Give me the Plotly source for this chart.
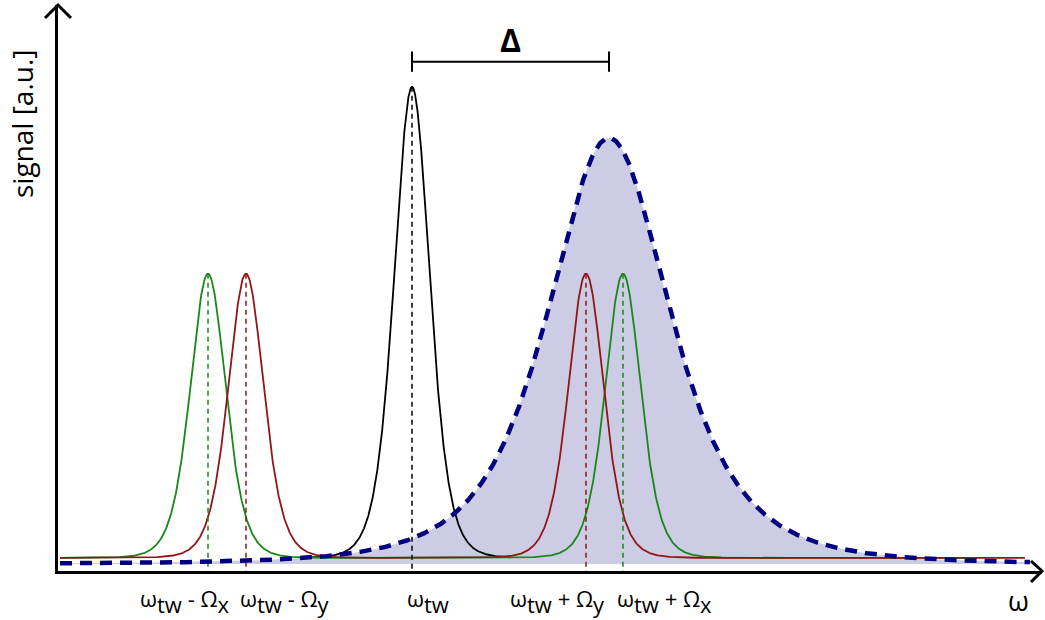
import numpy as np
import plotly.graph_objects as go

# ---- spectrum parameters (omega in arbitrary units, signal in a.u.) ----
omega_tw = 3.54                      # carrier peak
green_centers = [1.50, 5.65]         # omega_tw -/+ Omega_x
red_centers = [1.88, 5.28]           # omega_tw -/+ Omega_y
sideband_height = 0.587
carrier_height = 0.973
narrow_width = 0.48
narrow_exponent = 4
line_baseline = 0.027

cavity_center = 5.51                 # broad cavity response
cavity_height = 0.880
cavity_width = 1.12
cavity_exponent = 2
cavity_baseline = 0.0145

# x-extent of each drawn curve
red_span = [0.02, 9.67]
green_span = [0.02, 9.19]
black_span = [2.42, 4.53]
cavity_span = [0.02, 9.72]

# lowered, full-size index letters
SUB = "<span style='baseline-shift:-6px'>{}</span>"
tick_positions = [0.80, 1.80, 3.47, 4.50, 5.57]
tick_labels = [
    "ω" + SUB.format("tw") + " - Ω" + SUB.format("x"),
    "ω" + SUB.format("tw") + " - Ω" + SUB.format("y"),
    "ω" + SUB.format("tw"),
    "ω" + SUB.format("tw") + " + Ω" + SUB.format("y"),
    "ω" + SUB.format("tw") + " + Ω" + SUB.format("x"),
]

GREEN = "rgb(25,135,25)"
RED = "rgb(145,22,22)"
BLACK = "black"
NAVY = "rgb(0,0,128)"
FILL = "rgb(204,204,228)"
FONT = "Open Sans"


def pearson7(x, c, h, w, m):
    return h / (1.0 + ((x - c) / w) ** 2) ** m


def sampled(span, n=1500):
    return np.linspace(span[0], span[1], n)


fig = go.Figure()

# shaded cavity response
xc = sampled(cavity_span)
yc = cavity_baseline + pearson7(xc, cavity_center, cavity_height, cavity_width, cavity_exponent)
fig.add_trace(go.Scatter(x=xc, y=np.full_like(xc, cavity_baseline), mode="lines",
                         line=dict(width=0), hoverinfo="skip"))
fig.add_trace(go.Scatter(x=xc, y=yc, mode="lines", fill="tonexty", fillcolor=FILL,
                         line=dict(width=0), hoverinfo="skip"))

# carrier peak
xb = sampled(black_span)
yb = line_baseline + pearson7(xb, omega_tw, carrier_height, narrow_width, narrow_exponent)
fig.add_trace(go.Scatter(x=xb, y=yb, mode="lines", line=dict(color=BLACK, width=1.8)))

# sideband pairs
xg = sampled(green_span)
yg = line_baseline + sum(pearson7(xg, c, sideband_height, narrow_width, narrow_exponent)
                         for c in green_centers)
fig.add_trace(go.Scatter(x=xg, y=yg, mode="lines", line=dict(color=GREEN, width=1.8)))

xr = sampled(red_span)
yr = line_baseline + sum(pearson7(xr, c, sideband_height, narrow_width, narrow_exponent)
                         for c in red_centers)
fig.add_trace(go.Scatter(x=xr, y=yr, mode="lines", line=dict(color=RED, width=1.8)))

# dashed markers from each peak down to the axis
for c, col, h in ([(c, GREEN, sideband_height) for c in green_centers]
                  + [(c, RED, sideband_height) for c in red_centers]
                  + [(omega_tw, BLACK, carrier_height)]):
    top = line_baseline + h
    fig.add_trace(go.Scatter(x=[c, c], y=[top, 0], mode="lines",
                             line=dict(color=col, width=1.5, dash="5px,4px")))

# dashed cavity outline on top
fig.add_trace(go.Scatter(x=xc, y=yc, mode="lines",
                         line=dict(color=NAVY, width=4.5, dash="12px,8px")))

# detuning bracket
yb_br = 1.052
tick_h = 0.021
for x0, y0, x1, y1 in [(omega_tw, yb_br, cavity_center, yb_br),
                       (omega_tw, yb_br - tick_h, omega_tw, yb_br + tick_h),
                       (cavity_center, yb_br - tick_h, cavity_center, yb_br + tick_h)]:
    fig.add_shape(type="line", x0=x0, y0=y0, x1=x1, y1=y1, xref="x", yref="y",
                  line=dict(color="black", width=2))
fig.add_annotation(x=(omega_tw + cavity_center) / 2, y=1.097, xref="x", yref="y",
                   text="Δ", showarrow=False, xanchor="center", yanchor="middle",
                   font=dict(family=FONT, size=32, color="black", weight="bold"))

# ---- axes with open arrowheads ----
L, R, T, B = 58, 1042, 5, 571
W, H = 1045, 620


def paper(xp, yp):
    return (xp - L) / (R - L), (B - yp) / (B - T)


def path(points):
    pts = [paper(*p) for p in points]
    return "M " + " L ".join(f"{a:.5f},{b:.5f}" for a, b in pts)


# frequency labels under the axis
_, label_y = paper(0, 601)
for xp, lab in zip(tick_positions, tick_labels):
    fig.add_annotation(x=xp, y=label_y, xref="x", yref="paper", text=lab, showarrow=False,
                       xanchor="left", yanchor="middle",
                       font=dict(family=FONT, size=22, color="black"))

fig.add_shape(type="path", xref="paper", yref="paper",
              path=path([(45, 18), (58, 5), (71, 18)]),
              line=dict(color="black", width=3))
fig.add_shape(type="path", xref="paper", yref="paper",
              path=path([(1031, 561), (1042, 571), (1031, 582)]),
              line=dict(color="black", width=3))

fx, fy = paper(22, 124)
fig.add_annotation(x=fx, y=fy, xref="paper", yref="paper", text="signal [a.u.]",
                   textangle=-90, showarrow=False, xanchor="center", yanchor="middle",
                   font=dict(family=FONT, size=28, color="black"))
fx, fy = paper(1018, 600)
fig.add_annotation(x=fx, y=fy, xref="paper", yref="paper", text="ω", showarrow=False,
                   xanchor="center", yanchor="middle",
                   font=dict(family=FONT, size=27, color="black"))

fig.update_layout(
    width=W, height=H,
    margin=dict(l=L, r=W - R, t=T, b=H - B, pad=0),
    paper_bgcolor="white", plot_bgcolor="white",
    showlegend=False, hovermode=False,
    xaxis=dict(range=[0, 9.84], showgrid=False, zeroline=False, showticklabels=False,
               ticks="", showline=True, linecolor="black", linewidth=3, mirror=False),
    yaxis=dict(range=[0, 1.169], showgrid=False, zeroline=False, showticklabels=False,
               ticks="", showline=True, linecolor="black", linewidth=3, mirror=False),
)

fig.write_html("out.html")
